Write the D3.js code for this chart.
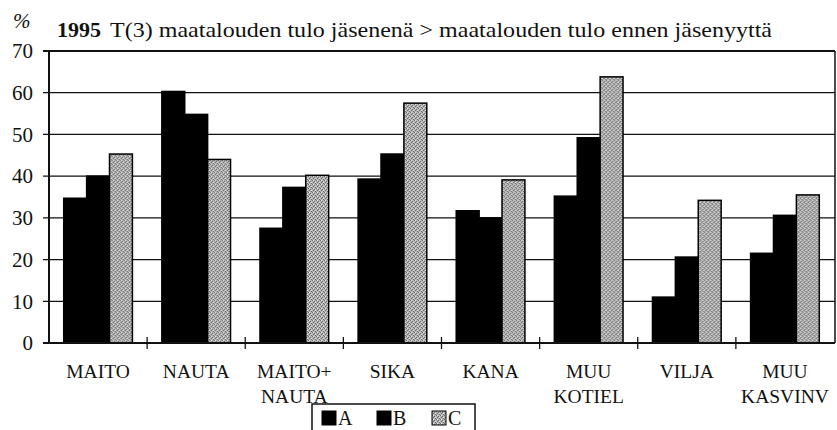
<!DOCTYPE html>
<html>
<head>
<meta charset="utf-8">
<script src="https://cdn.jsdelivr.net/npm/d3@7"></script>
<style>
  body { margin: 0; background: #fff; }
  svg { display: block; }
  svg text { font-family: "Times New Roman", Times, "Liberation Serif", Tinos, "DejaVu Serif", "Noto Serif", serif; }
</style>
</head>
<body>
<svg id="chart" width="837" height="430"></svg>
<script>
// chart data
const categories = [["MAITO"], ["NAUTA"], ["MAITO+", "NAUTA"], ["SIKA"], ["KANA"], ["MUU", "KOTIEL"], ["VILJA"], ["MUU", "KASVINV"]];
const seriesNames = ["A", "B", "C"];
const valuesA = [34.7, 60.3, 27.5, 39.3, 31.7, 35.2, 11.0, 21.5];
const valuesB = [40.0, 54.8, 37.3, 45.3, 30.0, 49.2, 20.6, 30.6];
const valuesC = [45.3, 44.0, 40.2, 57.5, 39.1, 63.8, 34.2, 35.5];
const yTicks = [0, 10, 20, 30, 40, 50, 60, 70];

const svg = d3.select("#chart");
const plotL = 49, plotR = 835, plotT = 51, plotB = 343;
const ink = "#111";

// dotted grey fill like the printed one
const defs = svg.append("defs");
const pat = defs.append("pattern")
  .attr("id", "dots")
  .attr("width", 4).attr("height", 4)
  .attr("patternUnits", "userSpaceOnUse");
pat.append("rect").attr("width", 4).attr("height", 4).attr("fill", "#b5b5b5");
[[0, 0], [2, 1], [1, 2], [3, 3]].forEach(p => {
  pat.append("rect").attr("x", p[0]).attr("y", p[1]).attr("width", 1).attr("height", 1).attr("fill", "#666");
});
[[1, 0], [3, 2]].forEach(p => {
  pat.append("rect").attr("x", p[0]).attr("y", p[1]).attr("width", 1).attr("height", 1).attr("fill", "#e8e8e8");
});

const keys = categories.map(c => c.join(" "));
const x0 = d3.scaleBand().domain(keys).range([plotL, plotR - 1]).paddingInner(0.3).paddingOuter(0.15);
const x1 = d3.scaleBand().domain(seriesNames).range([0, x0.bandwidth()]);
const y = d3.scaleLinear().domain([0, 70]).range([plotB, plotT]);

const fills = { A: "#000", B: "#000", C: "url(#dots)" };

// gridlines
svg.append("g")
  .selectAll("line")
  .data(yTicks)
  .join("line")
  .attr("x1", plotL - 6).attr("x2", plotR)
  .attr("y1", d => y(d)).attr("y2", d => y(d))
  .attr("stroke", ink)
  .attr("stroke-width", d => d == 70 ? 2 : 1.3);

// y labels
svg.append("g")
  .selectAll("text")
  .data(yTicks)
  .join("text")
  .attr("x", 33)
  .attr("y", d => y(d))
  .attr("dy", "0.35em")
  .attr("text-anchor", "end")
  .attr("font-size", 21)
  .attr("fill", ink)
  .text(d => d);

// bars
const rows = keys.map((k, i) => ({ key: k, A: valuesA[i], B: valuesB[i], C: valuesC[i] }));
svg.append("g")
  .selectAll("g")
  .data(rows)
  .join("g")
  .attr("transform", d => "translate(" + x0(d.key) + ",0)")
  .selectAll("rect")
  .data(d => seriesNames.map(s => ({ s: s, v: d[s] })))
  .join("rect")
  .attr("x", d => x1(d.s))
  .attr("y", d => y(d.v))
  .attr("width", x1.bandwidth())
  .attr("height", d => plotB - y(d.v))
  .attr("fill", d => fills[d.s])
  .attr("stroke", "#000")
  .attr("stroke-width", 1.5);

// axis lines
svg.append("line").attr("x1", plotL).attr("x2", plotL).attr("y1", plotT).attr("y2", plotB)
  .attr("stroke", ink).attr("stroke-width", 2);
svg.append("line").attr("x1", plotR).attr("x2", plotR).attr("y1", plotT).attr("y2", plotB)
  .attr("stroke", ink).attr("stroke-width", 1.5);
svg.append("line").attr("x1", plotL - 6).attr("x2", plotR).attr("y1", plotB).attr("y2", plotB)
  .attr("stroke", ink).attr("stroke-width", 2);

// category ticks
const step = x0.step();
svg.append("g")
  .selectAll("line")
  .data(d3.range(1, keys.length))
  .join("line")
  .attr("x1", i => plotL + i * step).attr("x2", i => plotL + i * step)
  .attr("y1", plotB - 6).attr("y2", plotB + 6)
  .attr("stroke", ink).attr("stroke-width", 1.3);

// category labels
const lab = svg.append("g")
  .selectAll("text")
  .data(categories)
  .join("text")
  .attr("x", (d, i) => plotL + (i + 0.5) * step)
  .attr("y", 378)
  .attr("text-anchor", "middle")
  .attr("font-size", 19.5)
  .attr("fill", ink);
lab.selectAll("tspan")
  .data(d => d)
  .join("tspan")
  .attr("x", function() { return this.parentNode.getAttribute("x"); })
  .attr("dy", (d, i) => i ? 25 : 0)
  .text(d => d);

// title
svg.append("text").attr("x", 13).attr("y", 28).attr("font-size", 21).attr("font-style", "italic").attr("fill", ink).text("%");
svg.append("text").attr("x", 57).attr("y", 37).attr("font-size", 22).attr("font-weight", "bold").attr("fill", ink).text("1995");
svg.append("text").attr("x", 110).attr("y", 37).attr("font-size", 22).attr("fill", ink)
  .attr("textLength", 662).attr("lengthAdjust", "spacingAndGlyphs")
  .text("T(3) maatalouden tulo jäsenenä > maatalouden tulo ennen jäsenyyttä");

// legend
const leg = svg.append("g");
leg.append("rect").attr("x", 312).attr("y", 404).attr("width", 163).attr("height", 32)
  .attr("fill", "#fff").attr("stroke", ink).attr("stroke-width", 1.5);
const li = leg.selectAll("g")
  .data(seriesNames)
  .join("g")
  .attr("transform", (d, i) => "translate(" + (322 + i * 55) + ",411)");
li.append("rect").attr("width", 14).attr("height", 14)
  .attr("fill", d => fills[d]).attr("stroke", "#000").attr("stroke-width", 1);
li.append("text").attr("x", 16).attr("y", 14).attr("font-size", 20).attr("fill", ink).text(d => d);
</script>
</body>
</html>
